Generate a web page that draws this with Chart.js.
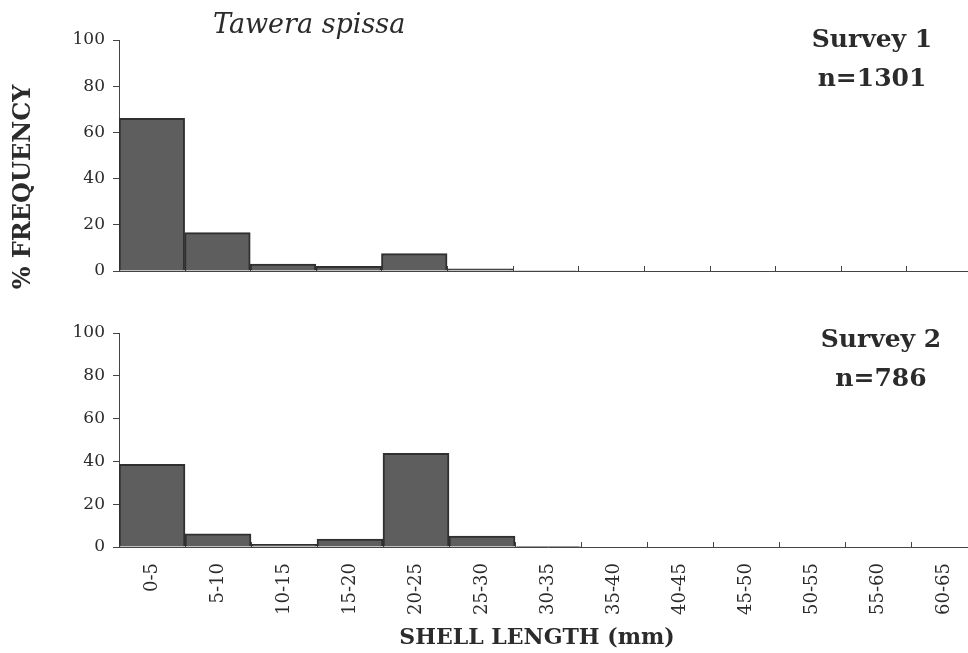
<!DOCTYPE html>
<html>
<head>
<meta charset="utf-8">
<title>Tawera spissa</title>
<script src="https://cdn.jsdelivr.net/npm/chart.js@4.4.0/dist/chart.umd.min.js"></script>
<style>
    body { margin:0; background:#fff; width:968px; height:653px; position:relative; overflow:hidden;
           font-family:"DejaVu Serif", serif; color:#2b2b2b; }
    canvas { position:absolute; left:0; }
    #grafica1 { top:0; }
    #grafica2 { top:300px; }
    .texto { position:absolute; white-space:nowrap; }
    #especie { left:213px; top:8px; font-size:27px; line-height:32px; font-style:italic; }
    .encuesta { width:240px; text-align:center; font-size:25px; line-height:39px; font-weight:bold; }
    #enc1 { left:752px; top:19px; }
    #enc2 { left:761px; top:319px; }
    #ytitulo { left:-128px; top:173px; width:300px; text-align:center; font-size:24px; line-height:28px;
               font-weight:bold; transform:rotate(-90deg); }
    #xtitulo { left:337px; top:622px; width:400px; text-align:center; font-size:22px; line-height:28px;
               font-weight:bold; }
</style>
</head>
<body>
<canvas id="grafica1" width="975" height="300"></canvas>
<canvas id="grafica2" width="980" height="353"></canvas>
<div class="texto" id="especie">Tawera spissa</div>
<div class="texto encuesta" id="enc1">Survey 1<br>n=1301</div>
<div class="texto encuesta" id="enc2">Survey 2<br>n=786</div>
<div class="texto" id="ytitulo">% FREQUENCY</div>
<div class="texto" id="xtitulo">SHELL LENGTH (mm)</div>

<script>
// clases de talla (mm)
var categorias = ['0-5', '5-10', '10-15', '15-20', '20-25', '25-30', '30-35',
                  '35-40', '40-45', '45-50', '50-55', '55-60', '60-65'];

// % de frecuencia por clase
var encuesta1 = [66.1, 16.6, 3.0, 2.0, 7.5, 0.9, 0.2, 0, 0, 0, 0, 0, 0];
var encuesta2 = [38.6, 6.1, 1.2, 3.7, 43.8, 5.1, 0.2, 0, 0, 0, 0, 0, 0];

var ejeY = [0, 20, 40, 60, 80, 100];

var fuente = "'DejaVu Serif', serif";
var tinta = '#2b2b2b';

// marcas cortas hacia arriba en los limites de cada clase
var marcasX = {
    id: 'marcasX',
    beforeDatasetsDraw: function(chart) {
        var x = chart.scales.x, ctx = chart.ctx, y0 = chart.chartArea.bottom;
        ctx.save();
        ctx.strokeStyle = '#444';
        ctx.lineWidth = 1;
        for (var i = 1; i < categorias.length; i++) {
            var px = Math.round(x.getPixelForValue(i - 0.5)) + 0.5;
            ctx.beginPath();
            ctx.moveTo(px, y0);
            ctx.lineTo(px, y0 - 5);
            ctx.stroke();
        }
        ctx.restore();
    }
};

function grafica(id, valores, abajo, padTop, padRight) {
    var ctx = document.getElementById(id).getContext('2d');

    return new Chart(ctx, {
        type: 'bar',
        data: {
            labels: categorias,
            datasets: [{
                data: valores,
                backgroundColor: '#5e5e5e',
                borderColor: '#303030',
                borderWidth: 2,
                barPercentage: 1,
                categoryPercentage: 1
            }]
        },
        options: {
            responsive: false,
            animation: false,
            layout: { padding: { top: padTop, right: padRight, left: 0, bottom: 0 } },
            plugins: { legend: { display: false }, tooltip: { enabled: false } },
            scales: {
                x: {
                    grid: { display: false },
                    border: { display: true, color: '#444', width: 1 },
                    ticks: {
                        display: abajo,
                        minRotation: 90,
                        maxRotation: 90,
                        autoSkip: false,
                        padding: 8,
                        color: tinta,
                        font: { family: fuente, size: 18 }
                    },
                    afterFit: function(s) { s.height = abajo ? 106 : 29; }
                },
                y: {
                    min: 0,
                    max: 100,
                    afterBuildTicks: function(s) { s.ticks = ejeY.map(function(v) { return { value: v }; }); },
                    grid: { display: true, drawOnChartArea: false, drawTicks: true, tickLength: 6, color: '#444' },
                    border: { display: true, color: '#444', width: 1 },
                    ticks: {
                        padding: 8,
                        color: tinta,
                        font: { family: fuente, size: 17 }
                    },
                    afterFit: function(s) { s.width = 119; }
                }
            }
        },
        plugins: [marcasX]
    });
}

grafica('grafica1', encuesta1, false, 40, 3);
grafica('grafica2', encuesta2, true, 33, 3);
</script>
</body>
</html>
